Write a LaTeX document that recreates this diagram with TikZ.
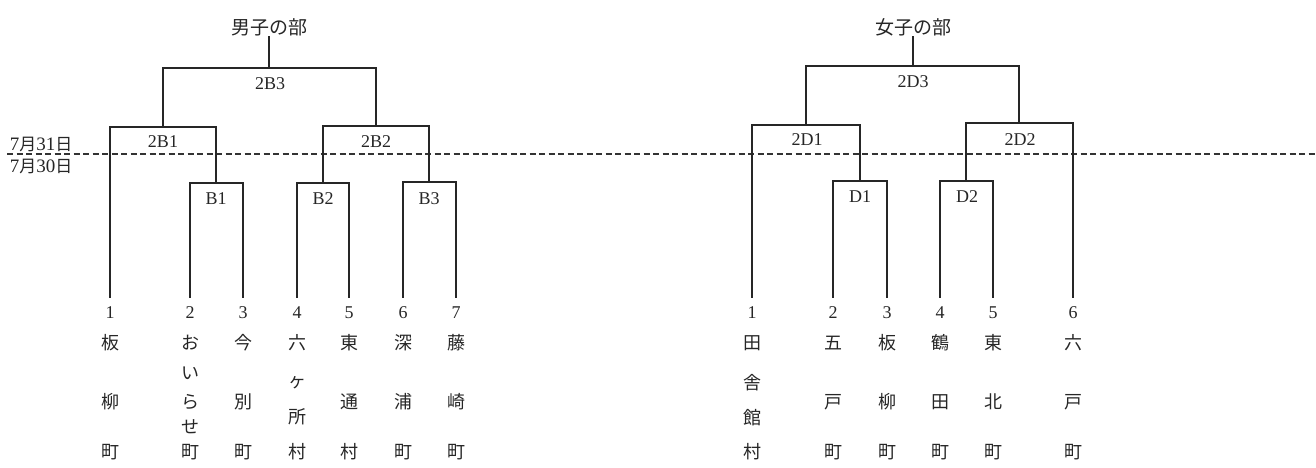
\documentclass[tikz,border=0pt]{standalone}
\usepackage{fontspec}
\setmainfont{Noto Sans CJK JP}
\newfontfamily\lat{Liberation Serif}
\begin{document}
\begin{tikzpicture}[x=1pt,y=-1pt,
  br/.style={line width=1.8pt, draw=black!85},
  leaf/.style={br, shorten >=8pt},
  title/.style={font=\fontsize{19}{19}\selectfont, inner sep=0pt, text=black!85},
  lbl/.style={font=\lat\fontsize{18}{18}\selectfont, inner sep=0pt, text=black!85},
  num/.style={font=\lat\fontsize{18}{18}\selectfont, inner sep=0pt, text height=12pt, text depth=0pt, anchor=north, text=black!85},
  ch/.style={font=\fontsize{18}{18}\selectfont, inner sep=0pt, text=black!85},
  datel/.style={font=\fontsize{17}{17}\selectfont, inner sep=0pt, text=black!85}]
\useasboundingbox (0,0) rectangle (1316,468);

% date line
\coordinate (dl) at (7,154);
\coordinate (dr) at (1316,154);
\draw[line width=1.8pt, draw=black!80, dash pattern=on 6pt off 3.5pt] (dl) -- (dr);
\node[datel] (d31) at (41,144) {{\lat\fontsize{19}{19}\selectfont 7}月{\lat\fontsize{19}{19}\selectfont 31}日};
\node[datel] (d30) at (41,166) {{\lat\fontsize{19}{19}\selectfont 7}月{\lat\fontsize{19}{19}\selectfont 30}日};

% ---------------- men ----------------
\node[title] (mt) at (269,27) {男子の部};
\coordinate (mF) at (269,68);
\coordinate (mS1) at (163,127);
\coordinate (mS2) at (376,126);
\coordinate (mQ1) at (216,183);
\coordinate (mQ2) at (323,183);
\coordinate (mQ3) at (429,182);
\foreach \n/\x in {1/110,2/190,3/243,4/297,5/349,6/403,7/456}
  \node[num] (mn\n) at (\x,306) {\n};

\draw[br] (mF) -- (mt.south);
\draw[br] (mF) -| (mS1);
\draw[br] (mF) -| (mS2);
\draw[leaf] (mS1) -| (mn1.north);
\draw[br] (mS1) -| (mQ1);
\draw[leaf] (mQ1) -| (mn2.north);
\draw[leaf] (mQ1) -| (mn3.north);
\draw[br] (mS2) -| (mQ2);
\draw[br] (mS2) -| (mQ3);
\draw[leaf] (mQ2) -| (mn4.north);
\draw[leaf] (mQ2) -| (mn5.north);
\draw[leaf] (mQ3) -| (mn6.north);
\draw[leaf] (mQ3) -| (mn7.north);

\node[lbl] (m2B3) at (270,84) {2B3};
\node[lbl] (m2B1) at (163,142) {2B1};
\node[lbl] (m2B2) at (376,142) {2B2};
\node[lbl] (mB1) at (216,199) {B1};
\node[lbl] (mB2) at (323,199) {B2};
\node[lbl] (mB3) at (429,199) {B3};

% men names
\foreach \y/\c [count=\i] in {343/板,402/柳,452/町} \node[ch] (ma\i) at (110,\y) {\c};
\foreach \y/\c [count=\i] in {343/お,373/い,402/ら,427/せ,452/町} \node[ch] (mb\i) at (190,\y) {\c};
\foreach \y/\c [count=\i] in {343/今,402/別,452/町} \node[ch] (mc\i) at (243,\y) {\c};
\foreach \y/\c [count=\i] in {343/六,383/ヶ,417/所,452/村} \node[ch] (md\i) at (297,\y) {\c};
\foreach \y/\c [count=\i] in {343/東,402/通,452/村} \node[ch] (me\i) at (349,\y) {\c};
\foreach \y/\c [count=\i] in {343/深,402/浦,452/町} \node[ch] (mf\i) at (403,\y) {\c};
\foreach \y/\c [count=\i] in {343/藤,402/崎,452/町} \node[ch] (mg\i) at (456,\y) {\c};

% ---------------- women ----------------
\node[title] (wt) at (913,27) {女子の部};
\coordinate (wF) at (913,66);
\coordinate (wS1) at (806,125);
\coordinate (wS2) at (1019,123);
\coordinate (wQ1) at (860,181);
\coordinate (wQ2) at (966,181);
\foreach \n/\x in {1/752,2/833,3/887,4/940,5/993,6/1073}
  \node[num] (wn\n) at (\x,306) {\n};

\draw[br] (wF) -- (wt.south);
\draw[br] (wF) -| (wS1);
\draw[br] (wF) -| (wS2);
\draw[leaf] (wS1) -| (wn1.north);
\draw[br] (wS1) -| (wQ1);
\draw[leaf] (wQ1) -| (wn2.north);
\draw[leaf] (wQ1) -| (wn3.north);
\draw[br] (wS2) -| (wQ2);
\draw[leaf] (wS2) -| (wn6.north);
\draw[leaf] (wQ2) -| (wn4.north);
\draw[leaf] (wQ2) -| (wn5.north);

\node[lbl] (w2D3) at (913,82) {2D3};
\node[lbl] (w2D1) at (807,140) {2D1};
\node[lbl] (w2D2) at (1020,140) {2D2};
\node[lbl] (wD1) at (860,197) {D1};
\node[lbl] (wD2) at (967,197) {D2};

% women names
\foreach \y/\c [count=\i] in {343/田,383/舎,418/館,452/村} \node[ch] (wa\i) at (752,\y) {\c};
\foreach \y/\c [count=\i] in {343/五,402/戸,452/町} \node[ch] (wb\i) at (833,\y) {\c};
\foreach \y/\c [count=\i] in {343/板,402/柳,452/町} \node[ch] (wc\i) at (887,\y) {\c};
\foreach \y/\c [count=\i] in {343/鶴,402/田,452/町} \node[ch] (wd\i) at (940,\y) {\c};
\foreach \y/\c [count=\i] in {343/東,402/北,452/町} \node[ch] (we\i) at (993,\y) {\c};
\foreach \y/\c [count=\i] in {343/六,402/戸,452/町} \node[ch] (wf\i) at (1073,\y) {\c};
\end{tikzpicture}
\end{document}
